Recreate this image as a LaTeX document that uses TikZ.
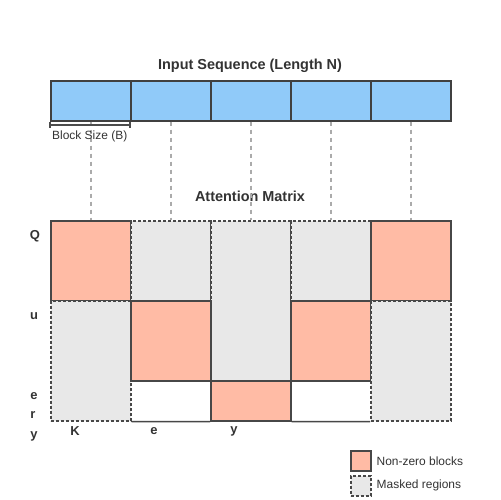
\documentclass[tikz,border=0pt]{standalone}
\usepackage{fontspec}
\setmainfont{Liberation Sans}
\begin{document}
\begin{tikzpicture}[x=1bp,y=-1bp,
  txt/.style={text=black!80, inner sep=0pt, font=\fontsize{12}{14}\selectfont},
  btxt/.style={text=black!80, inner sep=0pt, font=\fontsize{14.5}{16}\selectfont\bfseries},
  ltr/.style={text=black!80, inner sep=0pt, font=\fontsize{13}{15}\selectfont\bfseries},
  seqbox/.style={draw=black!75, line width=1.6bp, fill=seqblue, minimum width=80bp, minimum height=40bp, inner sep=0pt, anchor=north west},
  nz/.style={draw=black!72, line width=1.5bp, fill=nzpink, inner sep=0pt, anchor=north west},
  msk/.style={draw=black!72, line width=1.5bp, dash pattern=on 3bp off 2bp, fill=mskgray, inner sep=0pt, anchor=north west},
  guide/.style={draw=black!33, line width=1.5bp, dash pattern=on 4bp off 4bp}]
\definecolor{seqblue}{HTML}{90CAF9}
\definecolor{nzpink}{HTML}{FFBBA5}
\definecolor{mskgray}{HTML}{E8E8E8}
\path[use as bounding box, fill=white] (0,0) rectangle (500,500);

% titles
\node[btxt] (t1) at (250,66) {Input Sequence (Length N)};
\node[btxt] (t2) at (250,196) {Attention Matrix};

% sequence blocks
\node[seqbox] (s1) at (50,80) {};
\node[seqbox] (s2) at (130,80) {};
\node[seqbox] (s3) at (210,80) {};
\node[seqbox] (s4) at (290,80) {};
\node[seqbox] (s5) at (370,80) {};

% matrix frame (invisible reference)
\node[inner sep=0pt, minimum width=400bp, minimum height=200bp, anchor=north west] (m) at (50,220) {};

% guides
\foreach \i in {1,...,5} \draw[guide] (s\i.south) -- (s\i.south |- m.north);

% bracket
\coordinate (b1) at (50,125);
\coordinate (b2) at (130,125);
\draw[draw=black!70, line width=1.6bp] (b1) -- (b2);
\draw[draw=black!70, line width=1.2bp] ([yshift=-3bp]b1) -- ([yshift=3bp]b1);
\draw[draw=black!70, line width=1.2bp] ([yshift=-3bp]b2) -- ([yshift=3bp]b2);
\node[txt, anchor=west] (bs) at (52,136) {Block Size (B)};

% matrix cells
\node[nz, minimum width=80bp, minimum height=80bp] (c11) at (50,220) {};
\node[msk, minimum width=80bp, minimum height=80bp] (c12) at (130,220) {};
\node[msk, minimum width=80bp, minimum height=160bp] (c13) at (210,220) {};
\node[msk, minimum width=80bp, minimum height=80bp] (c14) at (290,220) {};
\node[nz, minimum width=80bp, minimum height=80bp] (c15) at (370,220) {};
\node[msk, minimum width=80bp, minimum height=120bp] (c21) at (50,300) {};
\node[nz, minimum width=80bp, minimum height=80bp] (c22) at (130,300) {};
\node[nz, minimum width=80bp, minimum height=80bp] (c24) at (290,300) {};
\node[msk, minimum width=80bp, minimum height=120bp] (c25) at (370,300) {};
\node[nz, minimum width=80bp, minimum height=40bp] (c33) at (210,380) {};
\draw[draw=black!72, line width=1.5bp] (c21.south east) -- (c33.south west);
\draw[draw=black!72, line width=1.5bp] (c33.south east) -- (c25.south west);

% axis letters
\node[ltr] (q1) at (35,236) {Q};
\node[ltr] (q2) at (34,316) {u};
\node[ltr] (q3) at (34,396) {e};
\node[ltr] (q4) at (33,415) {r};
\node[ltr] (q5) at (34,436) {y};
\node[ltr] (k1) at (75,431) {K};
\node[ltr] (k2) at (154,431) {e};
\node[ltr] (k3) at (234,431) {y};

% legend
\node[nz, minimum width=20bp, minimum height=20bp] (l1) at (350,450) {};
\node[msk, minimum width=20bp, minimum height=20bp] (l2) at (350,475) {};
\node[txt, anchor=west] (lt1) at ([xshift=5bp]l1.east) {Non-zero blocks};
\node[txt, anchor=west] (lt2) at ([xshift=5bp]l2.east) {Masked regions};
\end{tikzpicture}
\end{document}
